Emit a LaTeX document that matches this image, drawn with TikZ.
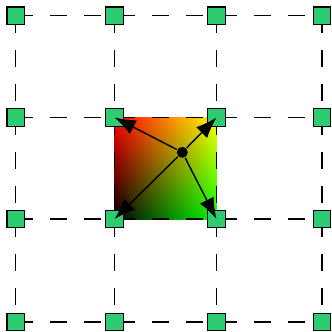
\documentclass[tikz,border=0pt]{standalone}
\usepackage{xcolor}
\usepackage{tikz}
\usetikzlibrary{arrows.meta,backgrounds}
\definecolor{cornergreen}{RGB}{46,204,113}

\begin{document}
\begin{tikzpicture}[
  corner/.style={draw, fill=cornergreen, inner sep=0pt, minimum size=1.75mm},
  gridline/.style={dash pattern=on 1.7mm off 1.7mm},
  dot/.style={circle, fill=black, inner sep=0pt, minimum size=1.1mm},
  arr/.style={-{Latex[length=6pt,width=4.4pt]}}
]
\useasboundingbox (0,0) rectangle (3.32,3.31);

% lattice points
\node[corner] (p00) at (0.157,3.153) {};
\node[corner] (p10) at (1.145,3.153) {};
\node[corner] (p20) at (2.165,3.153) {};
\node[corner] (p30) at (3.22,3.153) {};
\node[corner] (p01) at (0.157,2.135) {};
\node[corner] (p11) at (1.145,2.135) {};
\node[corner] (p21) at (2.165,2.135) {};
\node[corner] (p31) at (3.22,2.135) {};
\node[corner] (p02) at (0.157,1.12) {};
\node[corner] (p12) at (1.145,1.12) {};
\node[corner] (p22) at (2.165,1.12) {};
\node[corner] (p32) at (3.22,1.12) {};
\node[corner] (p03) at (0.157,0.09) {};
\node[corner] (p13) at (1.145,0.09) {};
\node[corner] (p23) at (2.165,0.09) {};
\node[corner] (p33) at (3.22,0.09) {};

\begin{scope}[on background layer]
  % shaded cell
  \shade[left color=black, right color=green] (p12.center) rectangle (p21.center);
  \begin{scope}[blend mode=screen]
    \shade[bottom color=black, top color=red] (p12.center) rectangle (p21.center);
  \end{scope}
  % dashed grid
  \draw[gridline] (p00.center) -- (p30.center);
  \draw[gridline] (p01.center) -- (p31.center);
  \draw[gridline] (p02.center) -- (p32.center);
  \draw[gridline] (p03.center) -- (p33.center);
  \draw[gridline] (p00.center) -- (p03.center);
  \draw[gridline] (p10.center) -- (p13.center);
  \draw[gridline] (p20.center) -- (p23.center);
  \draw[gridline] (p30.center) -- (p33.center);
\end{scope}

\node[dot] (pt) at (1.823,1.787) {};
\draw[arr] (pt) -- (p11.center);
\draw[arr] (pt) -- (p21.center);
\draw[arr] (pt) -- (p12.center);
\draw[arr] (pt) -- (p22.center);
\end{tikzpicture}
\end{document}
